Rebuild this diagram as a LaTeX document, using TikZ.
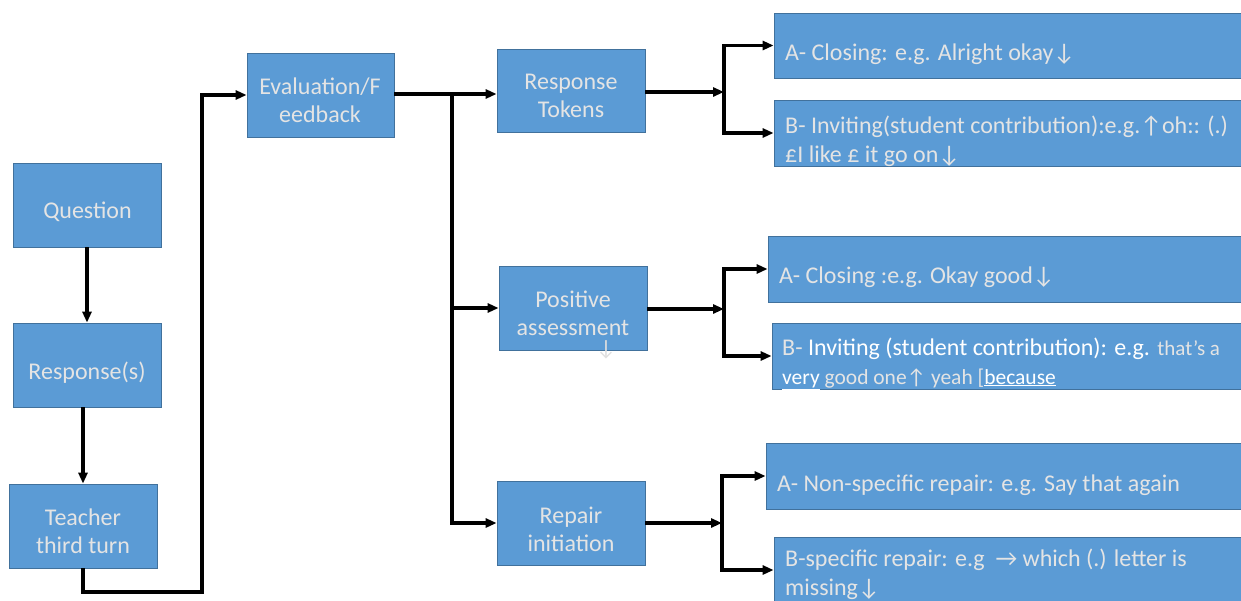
\documentclass[tikz,border=0pt]{standalone}
\usepackage{fontspec}
\setmainfont{Carlito}
\usetikzlibrary{arrows.meta}
\definecolor{boxfill}{RGB}{91,155,213}
\definecolor{boxline}{RGB}{65,113,156}
\definecolor{txt}{RGB}{228,228,228}
\newcommand\myDown{↓}
\newcommand\myUp{↑}
\newcommand\myRight{→}
\tikzset{
 box/.style={draw=boxline, line width=0.8pt, fill=boxfill, rectangle, inner sep=0pt},
 lbl/.style={text=txt, font=\fontsize{24}{28}\selectfont, align=center, inner sep=0pt, anchor=base},
 rlbl/.style={text=txt, font=\fontsize{24}{29}\selectfont, align=left, inner sep=0pt, anchor=base west},
 conn/.style={line width=3.2pt, -{Triangle[length=11pt,width=9pt]}},
}
\begin{document}
\begin{tikzpicture}[x=1pt,y=-1pt]
\useasboundingbox (0,0) rectangle (1241,600);
% left column
\node[box, minimum width=148pt, minimum height=84pt] (q) at (87,205) {};
\node[box, minimum width=148pt, minimum height=84pt] (r) at (87,365) {};
\node[box, minimum width=148pt, minimum height=84pt] (t) at (83,526) {};
\node[box, minimum width=147pt, minimum height=84pt] (e) at (320.5,95) {};
% middle column
\node[box, minimum width=148pt, minimum height=83pt] (rt) at (571,90.5) {};
\node[box, minimum width=148pt, minimum height=84pt] (pa) at (573,308) {};
\node[box, minimum width=148pt, minimum height=84pt] (ri) at (571,523) {};
% right column
\node[box, minimum width=469pt, minimum height=65pt] (a1) at (1008.5,45.5) {};
\node[box, minimum width=469pt, minimum height=66pt] (b1) at (1008.5,133) {};
\node[box, minimum width=475pt, minimum height=66pt] (a2) at (1005.5,269) {};
\node[box, minimum width=471pt, minimum height=66pt] (b2) at (1007.5,356) {};
\node[box, minimum width=477pt, minimum height=66pt] (a3) at (1004.5,476) {};
\node[box, minimum width=469pt, minimum height=66pt] (b3) at (1008.5,570) {};

% labels (base anchor = baseline of the last line)
\node[lbl] (qt) at (87.5,218) {Question};
\node[lbl] (rtx) at (87,379) {Response(s)};
\node[lbl] (tt) at (83,553) {Teacher\\third turn};
\node[lbl] (et) at (320,122) {Evaluation/F\\eedback};
\node[lbl] (rtt) at (571,117) {Response\\Tokens};
\node[lbl] (pat) at (573,335) {Positive\\assessment};
\node[text=white!75!gray, font=\fontsize{22}{26}\selectfont, inner sep=0pt] (paf) at (606,350) {\myDown};
\node[lbl] (rit) at (571,551) {Repair\\initiation};

\node[rlbl] (a1t) at (785,60) {A- Closing: e.g. Alright okay\myDown};
\node[rlbl] (b1t) at (785,162) {B- Inviting(student contribution):e.g.\myUp oh:: (.)\\£I like £ it go on\myDown};
\node[rlbl] (a2t) at (779,283) {A- Closing :e.g. Okay good\myDown};
\node[rlbl] (b2t) at (782,384) {B- {\color{white}Inviting (student contribution): e.g.} {\fontsize{21}{28}\selectfont that’s a}\\{\fontsize{21.5}{28}\selectfont{\color{white}\underline{very}} good one\myUp{} yeah [{\color{white}\underline{because}}}};
\node[rlbl] (a3t) at (777,491) {A- Non-specific repair: e.g. Say that again};
\node[rlbl] (b3t) at (785,595) {B-specific repair: e.g\ \ \myRight{} which (.) letter is\\missing\myDown};

% connectors
\draw[conn] (q.south) -- (r.north);
\draw[conn] ([xshift=-4pt]r.south) -- (t.north);
\coordinate (c1) at (202,592);
\draw[conn] (t.south) |- (c1) |- (e.west);
\coordinate (br) at (452,94);
\draw[conn] (e.east |- br) -- (rt.west |- br);
\draw[conn] (br) |- (pa.west);
\draw[conn] (br) |- (ri.west);

\coordinate (j1) at (724,92);
\draw[conn] (rt.east |- j1) -- (j1);
\draw[conn] (j1) |- (a1.west);
\draw[conn] (j1) |- (b1.west);

\coordinate (j2) at (724,309);
\draw[conn] (pa.east |- j2) -- (j2);
\draw[conn] (j2) |- (a2.west);
\draw[conn] (j2) |- (b2.west);

\coordinate (j3) at (722,523);
\draw[conn] (ri.east |- j3) -- (j3);
\draw[conn] (j3) |- (a3.west);
\draw[conn] (j3) |- (b3.west);
\end{tikzpicture}
\end{document}
